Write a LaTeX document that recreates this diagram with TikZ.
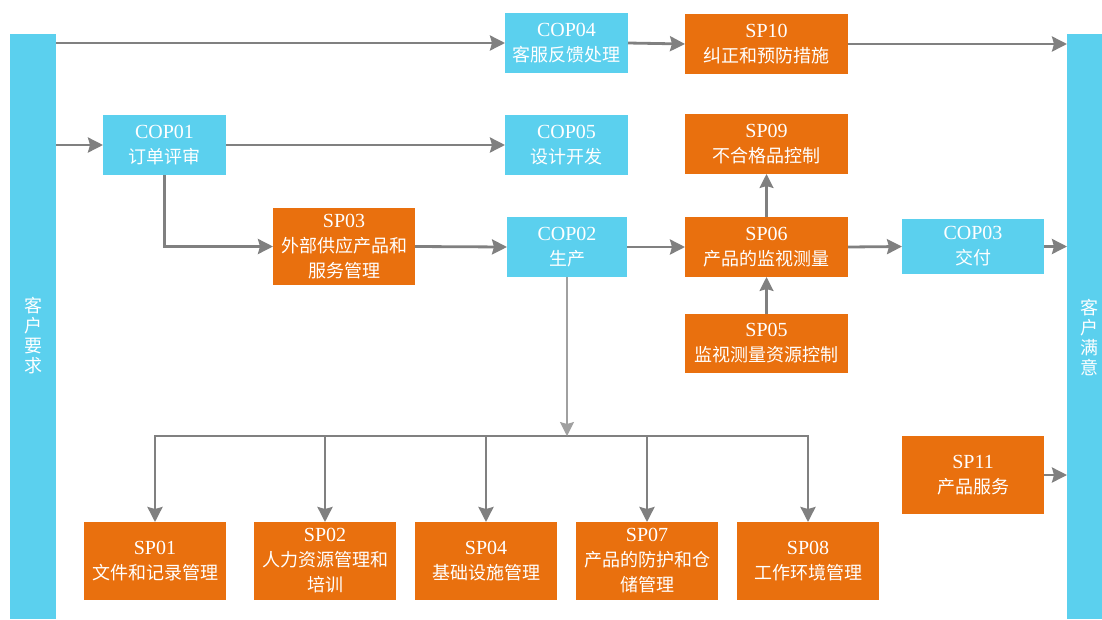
\documentclass[tikz,border=0pt]{standalone}
\usepackage{fontspec}
\setmainfont{Liberation Serif}
\newfontfamily\cjk{Noto Sans CJK SC}
\usetikzlibrary{arrows.meta,calc}
\definecolor{cblue}{HTML}{5BD0EE}
\definecolor{corange}{HTML}{E9700E}
\definecolor{cgray}{HTML}{808080}
\newcommand{\zhtxt}[1]{{\cjk\fontsize{18}{25}\selectfont #1}}
\begin{document}
\begin{tikzpicture}[x=1pt,y=-1pt,
 box/.style={rectangle, inner sep=0pt, outer sep=0pt, text=white, align=center, font=\fontsize{20}{25}\selectfont},
 bluebox/.style={box, fill=cblue},
 orangebox/.style={box, fill=corange},
 bar/.style={rectangle, inner sep=0pt, outer sep=0pt, fill=cblue},
 bartext/.style={text=white, align=center, inner sep=0pt, font=\cjk\fontsize{18}{20}\selectfont},
 arr/.style={draw=cgray, line width=2.8pt, -{Stealth[length=15pt,width=15pt,inset=2pt]}},
 uparr/.style={draw=cgray, line width=2.2pt, -{Stealth[length=14pt,width=14pt,inset=2pt]}},
 thinarr/.style={draw=cgray!75, line width=1.2pt, -{Stealth[length=14pt,width=14pt,inset=2pt]}},
 busline/.style={draw=cgray, line width=2.8pt, line cap=rect}
]
\useasboundingbox (0,0) rectangle (1102,619);
\fill[white] (0,0) rectangle (1102,619);

% side bars
\node[bar, minimum width=46pt, minimum height=585pt] (lbar) at (33,326.5) {};
\node[bartext] (ltxt) at (33,336) {客\\户\\要\\求};
\node[bar, minimum width=35pt, minimum height=585pt] (rbar) at (1084.5,326.5) {};
\node[bartext] (rtxt) at (1089,337) {客\\户\\满\\意};

% boxes
\node[bluebox, minimum width=123pt, minimum height=60pt] (cop04) at (566.5,43) {COP04\\\zhtxt{客服反馈处理}};
\node[orangebox, minimum width=163pt, minimum height=60pt] (sp10) at (766.5,44) {SP10\\\zhtxt{纠正和预防措施}};
\node[bluebox, minimum width=123pt, minimum height=60pt] (cop01) at (164.5,145) {COP01\\\zhtxt{订单评审}};
\node[bluebox, minimum width=123pt, minimum height=60pt] (cop05) at (566.5,145) {COP05\\\zhtxt{设计开发}};
\node[orangebox, minimum width=163pt, minimum height=60pt] (sp09) at (766.5,144) {SP09\\\zhtxt{不合格品控制}};
\node[orangebox, minimum width=142pt, minimum height=77pt] (sp03) at (344,246.5) {SP03\\\zhtxt{外部供应产品和}\\\zhtxt{服务管理}};
\node[bluebox, minimum width=120pt, minimum height=60pt] (cop02) at (567,247) {COP02\\\zhtxt{生产}};
\node[orangebox, minimum width=163pt, minimum height=60pt] (sp06) at (766.5,247) {SP06\\\zhtxt{产品的监视测量}};
\node[orangebox, minimum width=163pt, minimum height=59pt] (sp05) at (766.5,343.5) {SP05\\\zhtxt{监视测量资源控制}};
\node[bluebox, minimum width=142pt, minimum height=55pt] (cop03) at (973,246.5) {COP03\\\zhtxt{交付}};
\node[orangebox, minimum width=142pt, minimum height=78pt] (sp11) at (973,475) {SP11\\\zhtxt{产品服务}};

\node[orangebox, minimum width=142pt, minimum height=78pt] (sp01) at (155,561) {SP01\\\zhtxt{文件和记录管理}};
\node[orangebox, minimum width=142pt, minimum height=78pt] (sp02) at (325,561) {SP02\\\zhtxt{人力资源管理和}\\\zhtxt{培训}};
\node[orangebox, minimum width=142pt, minimum height=78pt] (sp04) at (486,561) {SP04\\\zhtxt{基础设施管理}};
\node[orangebox, minimum width=142pt, minimum height=78pt] (sp07) at (647,561) {SP07\\\zhtxt{产品的防护和仓}\\\zhtxt{储管理}};
\node[orangebox, minimum width=142pt, minimum height=78pt] (sp08) at (808,561) {SP08\\\zhtxt{工作环境管理}};

% connectors
\draw[arr] (lbar.east |- cop04.west) -- (cop04.west);
\draw[arr] (cop04.east) -- (sp10.west);
\draw[arr] (sp10.east) -- (sp10.east -| rbar.west);
\draw[arr] (lbar.east |- cop01.west) -- (cop01.west);
\draw[arr] (cop01.east) -- (cop05.west);
\draw[arr] (cop01.south) |- (sp03.west);
\draw[arr] (sp03.east) -- (cop02.west);
\draw[arr] (cop02.east) -- (sp06.west);
\draw[uparr] (sp06.north) -- (sp09.south);
\draw[uparr] (sp05.north) -- (sp06.south);
\draw[arr] (sp06.east) -- (cop03.west);
\draw[arr] (cop03.east) -- (cop03.east -| rbar.west);
\draw[arr] (sp11.east) -- (sp11.east -| rbar.west);

\coordinate (bus) at (567,436);
\draw[busline] (sp01.north |- bus) -- (sp08.north |- bus);
\draw[thinarr] (cop02.south) -- (bus);
\foreach \n in {sp01,sp02,sp04,sp07,sp08}{
  \draw[arr] (\n.north |- bus) -- (\n.north);
}
\end{tikzpicture}
\end{document}
